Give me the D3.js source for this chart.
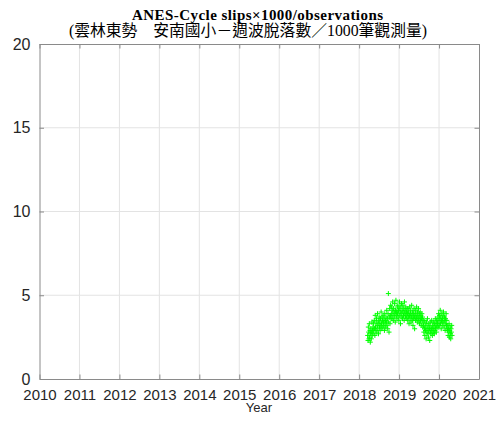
<!DOCTYPE html>
<html>
<head>
<meta charset="utf-8">
<script src="https://cdn.jsdelivr.net/npm/d3@7"></script>
<style>
  body { margin: 0; background: #fff; }
  svg { display: block; }
</style>
</head>
<body>
<svg id="chart" width="496" height="423"></svg>
<script>
// Station daily cycle slips per 1000 observations, sampled every 3 days
const startDate = "2018-03-20";
const stepDays = 3;
const slipRatio = [
  // 2018 spring
  2.6, 2.3, 3.1, 2.8, 2.4, 3.3, 2.5, 2.9, 2.2, 2.7, 3.0, 2.4, 2.8, 3.4, 2.6, 2.9, 3.1,
  // 2018 summer
  2.9, 3.3, 2.7, 3.5, 3.0, 2.6, 3.8, 3.1, 2.9, 3.4, 3.6, 2.8, 3.2, 3.9, 3.0, 3.3, 2.7, 3.5, 3.7, 3.1, 3.4, 2.9,
  3.6, 3.2, 4.0, 3.3, 3.0, 3.7, 3.5, 3.1, 3.8, 3.4, 3.2, 3.6, 2.9, 3.9, 3.3, 3.5, 3.1, 3.7, 3.4, 4.1, 3.2,
  // 2018 autumn
  3.6, 3.0, 3.9, 5.1, 3.4, 2.8, 3.7, 4.2, 3.3, 3.8, 4.4, 3.6,
  // 2018 winter - 2019 spring
  3.9, 4.3, 3.6, 4.1, 4.6, 3.8, 3.5, 4.2, 4.0, 3.7, 4.5, 3.9, 3.4, 4.1, 4.7, 3.8, 4.0, 3.6, 4.3, 3.9, 4.4, 3.7,
  4.1, 3.5, 4.2, 4.6, 3.8, 4.0, 3.3, 4.3, 3.9, 4.5, 3.7, 4.1, 3.6, 4.4, 4.0, 3.8, 4.2, 3.5, 4.6, 3.9, 4.1, 3.7,
  4.3, 3.8, 4.0, 3.6, 4.2,
  // 2019 summer
  3.9, 3.5, 4.2, 3.7, 4.0, 3.3, 3.8, 4.3, 3.6, 3.9, 4.1, 3.4, 3.7, 4.4, 3.8, 3.5, 4.0, 3.2, 3.9, 3.6, 4.2, 3.7,
  3.0, 3.8, 4.1, 3.5, 3.9, 3.6, 4.3, 3.7, 3.4, 4.0, 3.8, 3.5, 4.2, 3.6, 3.9, 3.3, 3.7, 4.0, 3.5, 3.8, 3.2, 3.6,
  3.9, 3.4, 3.7, 3.1, 3.5,
  // 2019 autumn
  3.2, 2.8, 3.5, 3.0, 2.6, 3.3, 2.9, 3.1, 2.4, 3.4, 2.8, 3.0, 3.6, 2.7, 3.2, 2.5, 2.9, 3.3, 3.0, 2.3, 3.1, 2.8,
  3.4, 2.7, 3.0, 3.5, 2.9, 2.6, 3.2, 3.0, 2.8, 3.4, 3.1, 2.7, 3.3, 2.9, 3.6, 3.0, 3.2, 2.8, 3.5, 3.1, 3.3,
  // 2019 winter - 2020
  3.4, 3.7, 3.1, 3.9, 3.5, 3.2, 3.8, 3.6, 4.1, 3.3, 3.7, 3.0, 3.5, 3.9, 3.4, 3.6, 3.2, 3.8, 4.0, 3.4, 3.1, 3.7,
  3.5, 2.9, 3.6, 3.3, 3.9, 3.2, 3.5, 3.0,
  // 2020 spring
  2.9, 3.2, 2.6, 3.0, 2.8, 3.3, 2.5, 2.9, 3.1, 2.7, 2.4, 3.0, 2.8, 3.2, 2.6
];
const yearTicks = [2010, 2011, 2012, 2013, 2014, 2015, 2016, 2017, 2018, 2019, 2020, 2021];
const valueTicks = [0, 5, 10, 15, 20];
const titleLine1 = "ANES-Cycle slips\u00D71000/observations";
const titleLine2 = "(雲林東勢\u3000安南國小－週波脫落數／1000筆觀測量)";
const xLabel = "Year";

const svg = d3.select("#chart");
const margin = { left: 39.5, right: 479, top: 44, bottom: 379 };

const x = d3.scaleLinear().domain([2010, 2021]).range([margin.left, margin.right]);
const y = d3.scaleLinear().domain([0, 20]).range([margin.bottom, margin.top]);

// convert a date to a decimal year
function decimalYear(d) {
  const yr = d.getUTCFullYear();
  const s = Date.UTC(yr, 0, 1), e = Date.UTC(yr + 1, 0, 1);
  return yr + (d.getTime() - s) / (e - s);
}
const t0 = new Date(startDate + "T00:00:00Z");
const points = slipRatio.map((v, i) => ({
  t: decimalYear(new Date(t0.getTime() + i * stepDays * 86400000)),
  v
}));

// grid
const grid = svg.append("g").attr("stroke", "#e3e3e3").attr("stroke-width", 1);
yearTicks.slice(1, -1).forEach(t => {
  grid.append("line").attr("x1", x(t)).attr("x2", x(t)).attr("y1", margin.top).attr("y2", margin.bottom);
});
valueTicks.slice(1, -1).forEach(t => {
  grid.append("line").attr("x1", margin.left).attr("x2", margin.right).attr("y1", y(t)).attr("y2", y(t));
});

// axes (ticks pointing inward, mirrored on top/right)
const axisColor = "#8a8a8a";
const tickLen = 4.5;
function styleAxis(g) {
  g.select(".domain").attr("stroke", axisColor);
  g.selectAll(".tick line").attr("stroke", axisColor);
  g.selectAll(".tick text").attr("fill", "#262626").attr("font-family", "Liberation Sans, Arial, sans-serif");
}
const xAxis = svg.append("g").attr("transform", `translate(0,${margin.bottom})`)
  .call(d3.axisBottom(x).tickValues(yearTicks).tickFormat(d3.format("d"))
    .tickSizeInner(-tickLen).tickSizeOuter(0).tickPadding(10));
styleAxis(xAxis);
xAxis.selectAll(".tick text").attr("font-size", 15);

const xTop = svg.append("g").attr("transform", `translate(0,${margin.top})`)
  .call(d3.axisTop(x).tickValues(yearTicks).tickFormat("").tickSizeInner(-tickLen).tickSizeOuter(0));
styleAxis(xTop);

const yAxis = svg.append("g").attr("transform", `translate(${margin.left},0)`)
  .call(d3.axisLeft(y).tickValues(valueTicks).tickFormat(d3.format("d"))
    .tickSizeInner(-tickLen).tickSizeOuter(0).tickPadding(9));
styleAxis(yAxis);
yAxis.selectAll(".tick text").attr("font-size", 16);

const yRight = svg.append("g").attr("transform", `translate(${margin.right},0)`)
  .call(d3.axisRight(y).tickValues(valueTicks).tickFormat("").tickSizeInner(-tickLen).tickSizeOuter(0));
styleAxis(yRight);

// data markers: "+" symbols
const mk = 2.5;
svg.append("g").attr("stroke", "#00ff00").attr("stroke-width", 1).attr("fill", "none")
  .selectAll("path").data(points).join("path")
  .attr("d", d => {
    const cx = x(d.t), cy = y(d.v);
    return `M${cx - mk},${cy}H${cx + mk}M${cx},${cy - mk}V${cy + mk}`;
  });

// titles
svg.append("text").attr("x", 257.5).attr("y", 19.5).attr("text-anchor", "middle")
  .attr("font-family", "Liberation Serif, Times New Roman, serif").attr("font-weight", "bold")
  .attr("font-size", 15).attr("textLength", 251).attr("lengthAdjust", "spacing")
  .attr("fill", "#000").text(titleLine1);
svg.append("text").attr("x", 248).attr("y", 35.5).attr("text-anchor", "middle")
  .attr("font-family", "Liberation Serif, 'Noto Sans CJK TC', serif")
  .attr("font-size", 15.8).attr("fill", "#000").text(titleLine2);

svg.append("text").attr("x", 259).attr("y", 412).attr("text-anchor", "middle")
  .attr("font-family", "Liberation Sans, Arial, sans-serif").attr("font-size", 13)
  .attr("fill", "#262626").text(xLabel);
</script>
</body>
</html>
